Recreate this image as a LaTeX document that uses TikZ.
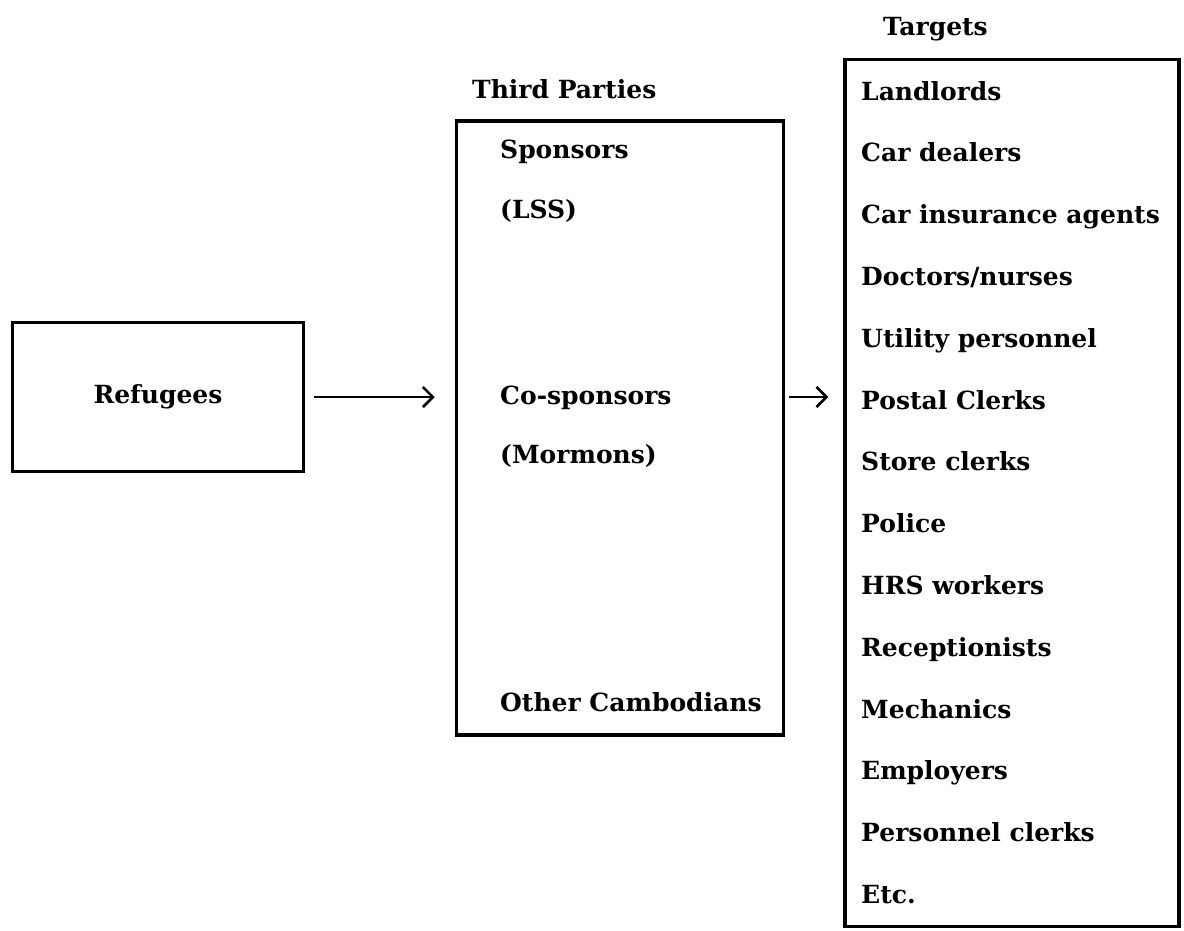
\documentclass[tikz,border=0pt]{standalone}
\usepackage{fontspec}
\setmainfont{DejaVu Serif}
\usetikzlibrary{positioning,chains,arrows.meta}

\begin{document}
\begin{tikzpicture}[x=1pt,y=-1pt]
\tikzstyle{every node}=[font=\fontsize{25}{30}\selectfont\bfseries]
\tikzstyle{frame}=[draw,line width=3.5pt,inner sep=0pt]
\tikzstyle{item}=[anchor=west,inner sep=0pt,text height=0.72em,text depth=0.05em,yshift=-5pt]
\tikzstyle{flow}=[line width=2.5pt,-{Straight Barb[length=10pt,width=20pt]}]

\useasboundingbox (0,0) rectangle (1184,930);

%% Refugees box
\node [frame,minimum width=291pt,minimum height=149pt] (refugees) at (158,397) {Refugees};

%% Third parties box
\node [frame,minimum width=327pt,minimum height=614pt] (third) at (620,428) {};
\node [item] (thirdtitle) at (472,90) {Third Parties};
\node [item] (spons) at (500,150) {Sponsors};
\node [item] (lss) at (500,210) {(LSS)};
\node [item] (cospons) at (500,396) {Co-sponsors};
\node [item] (mormons) at (500,455) {(Mormons)};
\node [item] (others) at (500,703) {Other Cambodians};

%% Targets box and list
\node [frame,minimum width=334pt,minimum height=867pt] (targets) at (1012,493) {};
\node [item] (targetstitle) at (883,27) {Targets};
\begin{scope}[shift={(861,30)},start chain=list placed {at={(0,61.8*\tikzchaincount)}}]
\foreach \lbl in {Landlords,Car dealers,Car insurance agents,Doctors/nurses,
    Utility personnel,Postal Clerks,Store clerks,Police,HRS workers,
    Receptionists,Mechanics,Employers,Personnel clerks,Etc.}
    \node [on chain,item] {\lbl};
\end{scope}

%% Arrows
\draw [flow,shorten <=9pt,shorten >=20pt] (refugees.east) -- (refugees.east -| third.west);
\draw [flow,shorten <=4pt,shorten >=15pt] (refugees.east -| third.east) -- (refugees.east -| targets.west);

\end{tikzpicture}
\end{document}
